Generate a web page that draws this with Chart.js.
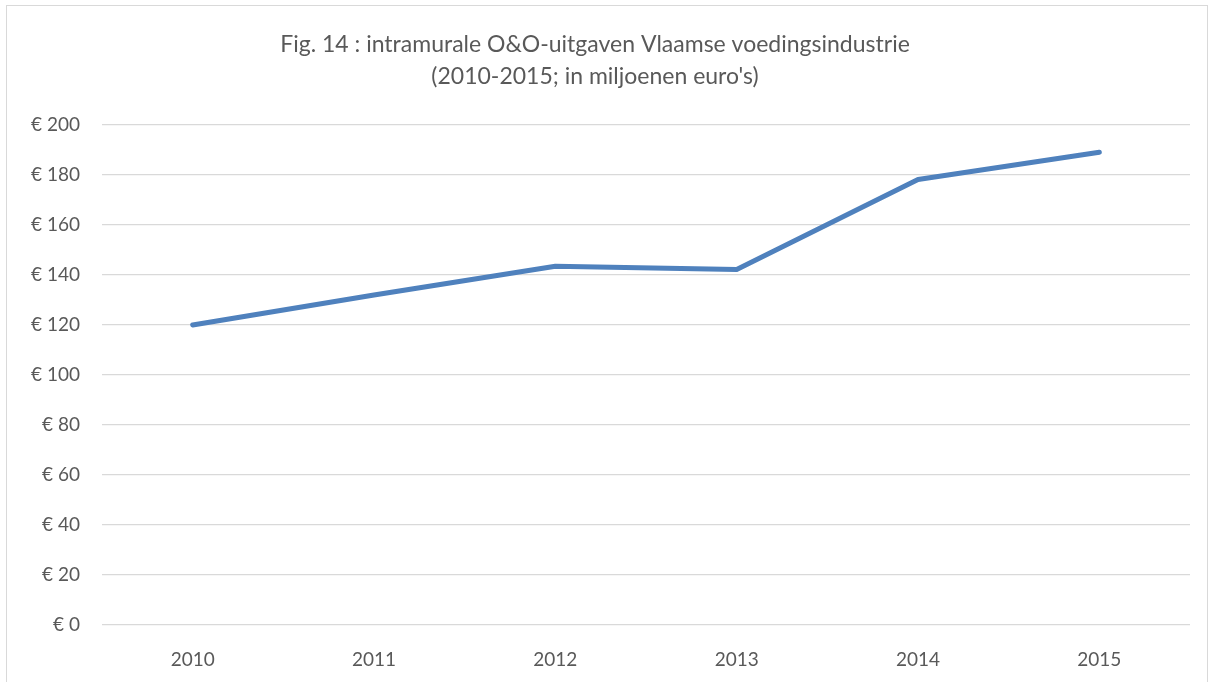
<!DOCTYPE html>
<html lang="nl">
<head>
    <meta charset="UTF-8">
    <title>Fig. 14</title>
    <script src="https://cdn.jsdelivr.net/npm/chart.js"></script>
    <style>
        html, body { margin: 0; padding: 0; background: #fff; }
        .wrap { position: absolute; left: 6px; top: 5px; width: 1202px; height: 690px; border: 1px solid #d9d9d9; box-sizing: border-box; }
        .chartbox { position: absolute; left: 0; top: 0; width: 1214px; height: 682px; }
    </style>
</head>
<body>
    <div class="wrap"></div>
    <div class="chartbox"><canvas id="myLineChart"></canvas></div>
    <script>
        // data
        const years = ['2010', '2011', '2012', '2013', '2014', '2015'];
        const uitgaven = [120, 132, 143.5, 142.2, 178.2, 189.1];
        const titleLines = ['Fig. 14 : intramurale O&O-uitgaven Vlaamse voedingsindustrie', "(2010-2015; in miljoenen euro's)"];

        const fontFam = 'Lato, "Open Sans", sans-serif';
        const ctx = document.getElementById('myLineChart').getContext('2d');
        const myLineChart = new Chart(ctx, {
            type: 'line',
            data: {
                labels: years,
                datasets: [{
                    label: 'O&O-uitgaven',
                    data: uitgaven,
                    borderColor: '#4F81BD',
                    borderWidth: 5,
                    borderCapStyle: 'round',
                    borderJoinStyle: 'round',
                    pointRadius: 0,
                    fill: false,
                    tension: 0
                }]
            },
            options: {
                responsive: true,
                maintainAspectRatio: false,
                animation: false,
                layout: { padding: { left: 0, right: 24, top: 0, bottom: 0 } },
                plugins: {
                    legend: { display: false },
                    tooltip: { enabled: false },
                    title: {
                        display: true,
                        text: titleLines,
                        color: '#595959',
                        font: { family: fontFam, size: 23, weight: 'normal', lineHeight: 1.39 },
                        padding: { top: 29, bottom: 32 }
                    }
                },
                scales: {
                    x: {
                        offset: true,
                        grid: { display: false, drawTicks: false },
                        border: { display: false },
                        ticks: { color: '#595959', padding: 23, font: { family: fontFam, size: 19 } },
                        afterFit: function(scale) { scale.height = 57; }
                    },
                    y: {
                        min: 0,
                        max: 200,
                        grid: { color: '#d9d9d9', lineWidth: 1.3, drawTicks: false },
                        border: { display: false },
                        ticks: {
                            stepSize: 20,
                            color: '#595959',
                            padding: 22,
                            font: { family: fontFam, size: 19 },
                            callback: function(v) { return '€ ' + v; }
                        },
                        afterFit: function(scale) { scale.width = 102; }
                    }
                }
            }
        });
    </script>
</body>
</html>
